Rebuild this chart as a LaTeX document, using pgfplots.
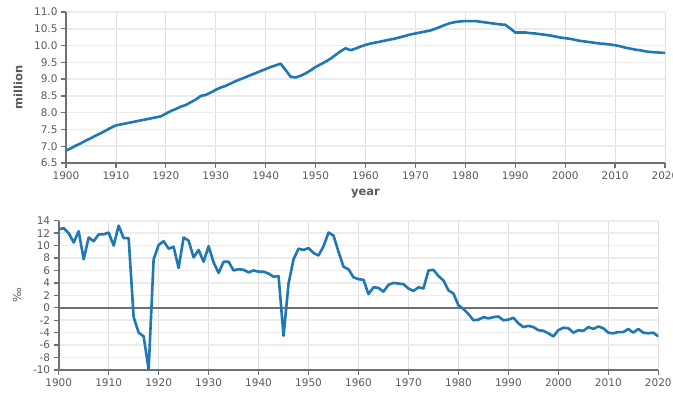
\documentclass[border=0pt]{standalone}
\usepackage{pgfplots}
\pgfplotsset{compat=1.18}
\usepackage{fontspec}
\setmainfont{DejaVu Sans}
\definecolor{linec}{RGB}{31,119,180}
\definecolor{txt}{RGB}{90,90,90}
\definecolor{axc}{RGB}{112,112,112}
\definecolor{gridh}{RGB}{236,236,236}
\definecolor{gridv}{RGB}{222,222,222}
\pgfplotstableread{
year pop
1900 6.87
1901 6.94
1902 7.02
1903 7.09
1904 7.17
1905 7.24
1906 7.32
1907 7.39
1908 7.47
1909 7.55
1910 7.62
1911 7.65
1912 7.68
1913 7.71
1914 7.74
1915 7.77
1916 7.80
1917 7.83
1918 7.86
1919 7.89
1920 7.97
1921 8.05
1922 8.11
1923 8.18
1924 8.23
1925 8.31
1926 8.39
1927 8.50
1928 8.53
1929 8.60
1930 8.68
1931 8.75
1932 8.80
1933 8.87
1934 8.94
1935 9.00
1936 9.06
1937 9.12
1938 9.18
1939 9.24
1940 9.30
1941 9.36
1942 9.41
1943 9.46
1944 9.27
1945 9.07
1946 9.05
1947 9.10
1948 9.17
1949 9.26
1950 9.36
1951 9.44
1952 9.52
1953 9.61
1954 9.72
1955 9.83
1956 9.92
1957 9.86
1958 9.91
1959 9.97
1960 10.02
1961 10.06
1962 10.09
1963 10.12
1964 10.15
1965 10.18
1966 10.21
1967 10.25
1968 10.29
1969 10.33
1970 10.36
1971 10.39
1972 10.42
1973 10.45
1974 10.50
1975 10.56
1976 10.62
1977 10.67
1978 10.70
1979 10.72
1980 10.73
1981 10.73
1982 10.73
1983 10.71
1984 10.69
1985 10.67
1986 10.65
1987 10.63
1988 10.62
1989 10.51
1990 10.39
1991 10.39
1992 10.39
1993 10.37
1994 10.36
1995 10.34
1996 10.32
1997 10.30
1998 10.27
1999 10.24
2000 10.22
2001 10.20
2002 10.17
2003 10.14
2004 10.12
2005 10.10
2006 10.08
2007 10.06
2008 10.05
2009 10.03
2010 10.01
2011 9.98
2012 9.94
2013 9.91
2014 9.88
2015 9.86
2016 9.83
2017 9.81
2018 9.80
2019 9.79
2020 9.78
}\poptable
\pgfplotstableread{
year rate
1900 12.6
1901 12.8
1902 12.0
1903 10.5
1904 12.3
1905 7.8
1906 11.3
1907 10.7
1908 11.8
1909 11.8
1910 12.1
1911 10.0
1912 13.2
1913 11.2
1914 11.2
1915 -1.5
1916 -4.0
1917 -4.6
1918 -9.9
1919 7.8
1920 10.1
1921 10.7
1922 9.5
1923 9.8
1924 6.4
1925 11.3
1926 10.8
1927 8.1
1928 9.3
1929 7.4
1930 9.9
1931 7.3
1932 5.6
1933 7.4
1934 7.4
1935 6.0
1936 6.2
1937 6.1
1938 5.7
1939 6.0
1940 5.8
1941 5.8
1942 5.5
1943 5.0
1944 5.1
1945 -4.5
1946 3.9
1947 7.8
1948 9.5
1949 9.3
1950 9.6
1951 8.8
1952 8.4
1953 9.9
1954 12.1
1955 11.6
1956 9.0
1957 6.6
1958 6.2
1959 4.9
1960 4.6
1961 4.5
1962 2.2
1963 3.3
1964 3.2
1965 2.6
1966 3.7
1967 4.0
1968 3.9
1969 3.8
1970 3.1
1971 2.7
1972 3.3
1973 3.1
1974 6.0
1975 6.1
1976 5.1
1977 4.4
1978 2.8
1979 2.3
1980 0.4
1981 -0.2
1982 -1.0
1983 -2.0
1984 -1.9
1985 -1.5
1986 -1.7
1987 -1.5
1988 -1.4
1989 -2.0
1990 -1.9
1991 -1.6
1992 -2.5
1993 -3.1
1994 -2.9
1995 -3.1
1996 -3.6
1997 -3.7
1998 -4.1
1999 -4.6
2000 -3.6
2001 -3.2
2002 -3.3
2003 -4.0
2004 -3.6
2005 -3.7
2006 -3.1
2007 -3.4
2008 -3.0
2009 -3.3
2010 -4.0
2011 -4.1
2012 -3.9
2013 -3.9
2014 -3.4
2015 -4.0
2016 -3.4
2017 -4.0
2018 -4.1
2019 -4.0
2020 -4.6
}\ratetable
\pgfplotsset{
  mystyle/.style={
    scale only axis,
    axis x line*=bottom,
    axis y line*=left,
    axis line style={axc, line width=2pt},
    tick align=outside,
    major tick length=5pt,
    tick style={axc, line width=1.3pt},
    grid=major,
    x grid style={gridv, line width=0.8pt},
    y grid style={gridh, line width=1.6pt},
    xmin=1900, xmax=2020,
    xtick={1900,1910,...,2020},
    ticklabel style={font=\fontsize{10.5}{12}\selectfont, text=txt},
    /pgf/number format/assume math mode=true,
    /pgf/number format/1000 sep={},
  }
}
\begin{document}
\begin{tikzpicture}
\useasboundingbox (0pt,0pt) rectangle (673pt,-401pt);
\begin{axis}[mystyle,
  at={(66pt,-163pt)}, anchor=south west,
  width=599pt, height=151pt,
  ymin=6.5, ymax=11,
  ytick={6.5,7,...,11},
  yticklabel style={/pgf/number format/fixed, /pgf/number format/fixed zerofill, /pgf/number format/precision=1},
  ylabel={\textbf{million}}, xlabel={\textbf{year}},
  every axis y label/.style={at={(axis description cs:-0.0801,0.5)}, anchor=center, rotate=90, font=\fontsize{11.5}{13}\selectfont\bfseries, text=txt},
  every axis x label/.style={at={(axis description cs:0.5,-0.205)}, anchor=center, font=\fontsize{11.5}{13}\selectfont\bfseries, text=txt},
]
\addplot[linec, line width=2.6pt, line join=round, no markers] table[x=year, y=pop] {\poptable};
\end{axis}
\begin{axis}[mystyle,
  at={(58.7pt,-370pt)}, anchor=south west,
  width=599.6pt, height=149.3pt,
  ymin=-10, ymax=14,
  ytick={-10,-8,...,14},
  ylabel={‰},
  every axis y label/.style={at={(axis description cs:-0.0695,0.5)}, anchor=center, rotate=90, font=\fontsize{11}{13}\selectfont, text=txt},
]
\addplot[axc, line width=2.4pt, no markers] coordinates {(1900,0) (2020,0)};
\addplot[linec, line width=2.6pt, line join=round, no markers] table[x=year, y=rate] {\ratetable};
\end{axis}
\end{tikzpicture}
\end{document}
